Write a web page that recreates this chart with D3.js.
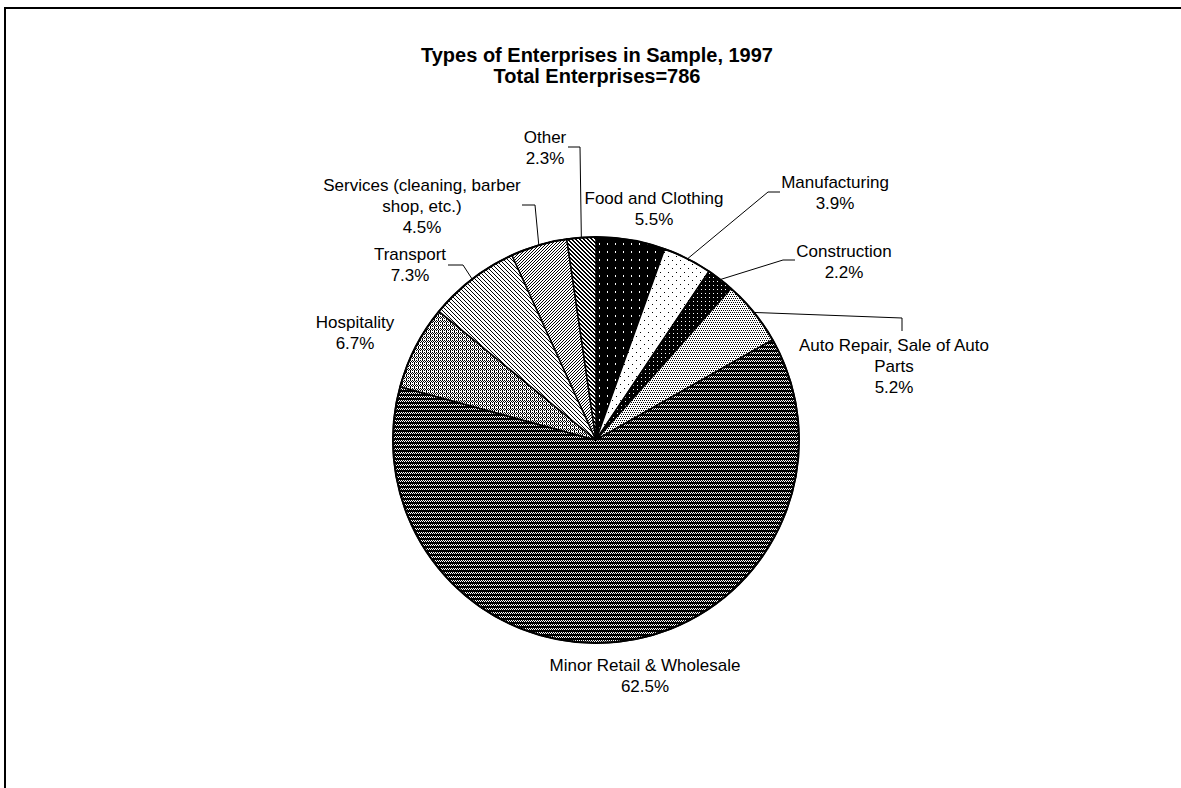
<!DOCTYPE html>
<html>
<head>
<meta charset="utf-8">
<script src="https://cdn.jsdelivr.net/npm/d3@7"></script>
<style>
  html, body { margin: 0; padding: 0; background: #fff; overflow: hidden; }
  svg { display: block; }
</style>
</head>
<body>
<div id="chart"></div>
<script>
// Data
const categories = [
  "Food and Clothing", "Manufacturing", "Construction",
  "Auto Repair, Sale of Auto Parts", "Minor Retail & Wholesale",
  "Hospitality", "Transport", "Services (cleaning, barber shop, etc.)", "Other"
];
const shares = [5.5, 3.9, 2.2, 5.2, 62.5, 6.7, 7.3, 4.5, 2.3];
const titleLines = ["Types of Enterprises in Sample, 1997", "Total Enterprises=786"];

// Label text lines (as broken in the picture)
const labelLines = {
  "Food and Clothing": ["Food and Clothing"],
  "Manufacturing": ["Manufacturing"],
  "Construction": ["Construction"],
  "Auto Repair, Sale of Auto Parts": ["Auto Repair, Sale of Auto", "Parts"],
  "Minor Retail & Wholesale": ["Minor Retail & Wholesale"],
  "Hospitality": ["Hospitality"],
  "Transport": ["Transport"],
  "Services (cleaning, barber shop, etc.)": ["Services (cleaning, barber", "shop, etc.)"],
  "Other": ["Other"]
};

const width = 1181, height = 788;
const cx = 596, cy = 440, radius = 203;
const lineH = 21;

// Label layout, offsets from the pie centre (first line centre, leader bends)
const labelLayout = {
  "Food and Clothing": { dx: 58, dy: -242 },
  "Manufacturing": { dx: 239, dy: -258, leader: [[172, -248], [184, -248]] },
  "Construction": { dx: 248, dy: -189, leader: [[187, -180], [199, -180]] },
  "Auto Repair, Sale of Auto Parts": { dx: 298, dy: -95, leader: [[306, -122], [306, -109]] },
  "Minor Retail & Wholesale": { dx: 49, dy: 225 },
  "Hospitality": { dx: -241, dy: -118 },
  "Transport": { dx: -186, dy: -186, leader: [[-133, -175], [-148, -175]] },
  "Services (cleaning, barber shop, etc.)": { dx: -174, dy: -255, leader: [[-61, -235], [-74, -235]] },
  "Other": { dx: -51, dy: -303, leader: [[-16, -293], [-28, -293]] }
};

const svg = d3.select("#chart")
  .append("svg")
  .attr("width", width)
  .attr("height", height);

const defs = svg.append("defs");

// Pixel patterns, one per category
function pixelPattern(id, w, h, bg, fg, cells) {
  const p = defs.append("pattern")
    .attr("id", id)
    .attr("patternUnits", "userSpaceOnUse")
    .attr("width", w)
    .attr("height", h);
  p.append("rect").attr("width", w).attr("height", h).attr("fill", bg);
  cells.forEach(([x, y, cw, ch]) => {
    p.append("rect")
      .attr("x", x).attr("y", y)
      .attr("width", cw || 1).attr("height", ch || 1)
      .attr("fill", fg)
      .attr("shape-rendering", "crispEdges");
  });
}

pixelPattern("p0", 8, 8, "#000", "#fff", [[3, 3, 1, 2]]);
pixelPattern("p1", 8, 8, "#fff", "#000", [[0, 0], [4, 4]]);
pixelPattern("p2", 4, 4, "#000", "#fff", [[1, 1]]);
pixelPattern("p3", 4, 4, "#fff", "#000", [[0, 0], [2, 0], [1, 2], [3, 2]]);
pixelPattern("p4", 2, 4, "#fff", "#000", [[0, 0], [1, 1], [0, 2], [1, 2], [0, 3], [1, 3]]);
pixelPattern("p5", 4, 4, "#fff", "#000", [[0, 0], [2, 0], [1, 1], [3, 1], [0, 2], [2, 2], [2, 3]]);
pixelPattern("p6", 4, 4, "#fff", "#000", [[0, 0], [1, 1], [2, 2], [3, 3]]);
pixelPattern("p7", 3, 3, "#fff", "#000", [[2, 0], [1, 1], [0, 2]]);
pixelPattern("p8", 4, 4, "#fff", "#000", [[0, 0], [1, 0], [1, 1], [2, 1], [2, 2], [3, 2], [3, 3], [0, 3]]);

// Frame (only the top and left edges fall inside the picture)
svg.append("path")
  .attr("d", `M5,${height + 10}V8H${width + 10}`)
  .attr("fill", "none")
  .attr("stroke", "#000")
  .attr("stroke-width", 2);

// Title
svg.append("g")
  .selectAll("text")
  .data(titleLines)
  .join("text")
  .attr("x", 597)
  .attr("y", (d, i) => 55 + i * 21)
  .attr("text-anchor", "middle")
  .attr("dominant-baseline", "central")
  .style("font-family", "'Liberation Sans', Arial, sans-serif")
  .style("font-weight", "bold")
  .style("font-size", "20px")
  .text(d => d);

// Pie
const slices = categories.map((c, i) => ({ name: c, value: shares[i], idx: i }));
const pie = d3.pie().sort(null).value(d => d.value);
const arcs = pie(slices);
const arc = d3.arc().innerRadius(0).outerRadius(radius);

const g = svg.append("g").attr("transform", `translate(${cx},${cy})`);

g.selectAll("path.slice")
  .data(arcs)
  .join("path")
  .attr("class", "slice")
  .attr("d", arc)
  .attr("fill", d => `url(#p${d.data.idx})`)
  .attr("stroke", "#000")
  .attr("stroke-width", 1.5)
  .attr("stroke-linejoin", "round");

g.append("circle")
  .attr("r", radius)
  .attr("fill", "none")
  .attr("stroke", "#000")
  .attr("stroke-width", 2);

// Leader lines
const edgePoint = d => {
  const a = (d.startAngle + d.endAngle) / 2;
  return [radius * Math.sin(a), -radius * Math.cos(a)];
};

g.selectAll("path.leader")
  .data(arcs.filter(d => labelLayout[d.data.name].leader))
  .join("path")
  .attr("class", "leader")
  .attr("d", d => d3.line()([edgePoint(d), ...labelLayout[d.data.name].leader]))
  .attr("fill", "none")
  .attr("stroke", "#000")
  .attr("stroke-width", 1);

// Labels
const labels = g.selectAll("g.label")
  .data(arcs)
  .join("g")
  .attr("class", "label")
  .attr("transform", d => {
    const l = labelLayout[d.data.name];
    return `translate(${l.dx},${l.dy})`;
  });

labels.selectAll("text")
  .data(d => [...labelLines[d.data.name], d3.format(".1f")(d.data.value) + "%"])
  .join("text")
  .attr("y", (d, i) => i * lineH)
  .attr("text-anchor", "middle")
  .attr("dominant-baseline", "central")
  .style("font-family", "'Liberation Sans', Arial, sans-serif")
  .style("font-size", "17px")
  .text(d => d);
</script>
</body>
</html>
